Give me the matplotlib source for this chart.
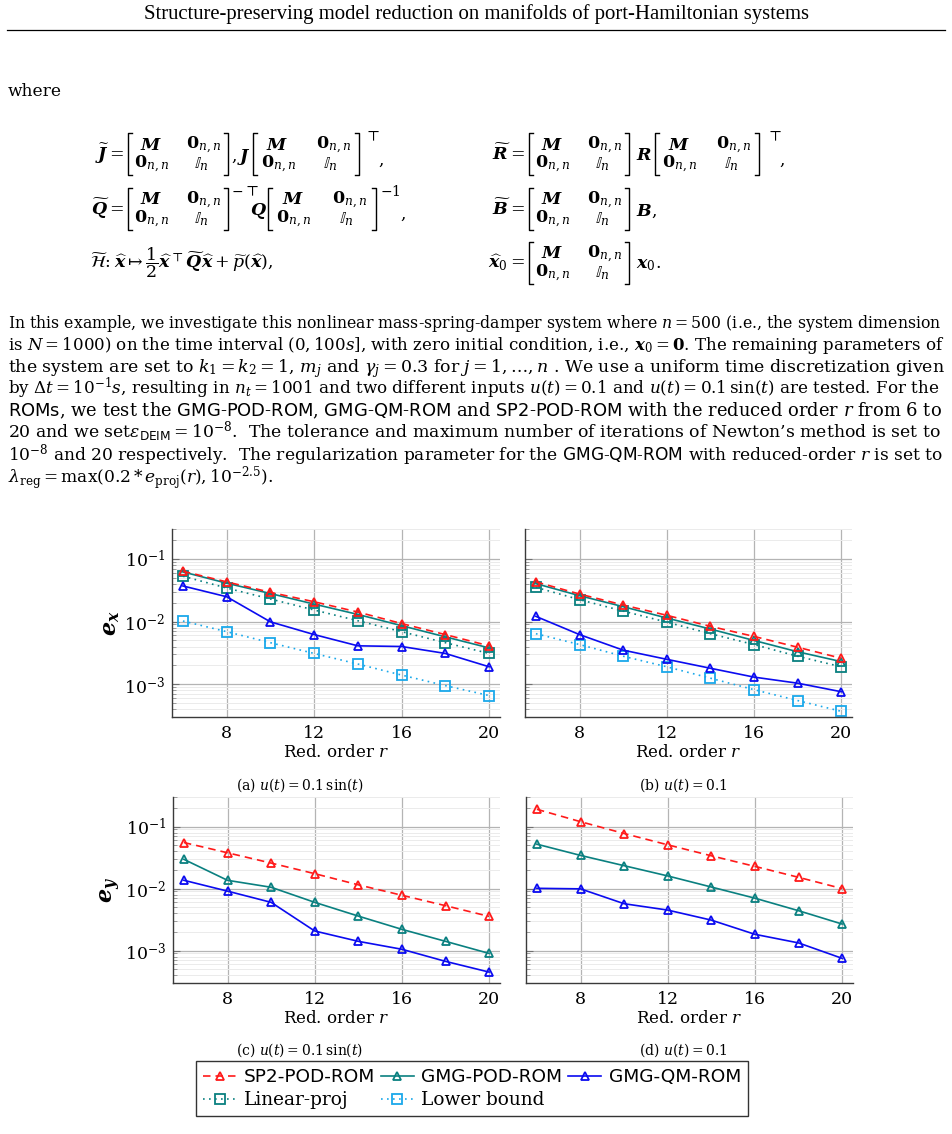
import matplotlib
matplotlib.use('Agg')
import matplotlib.pyplot as plt
import matplotlib.ticker as mticker
import numpy as np

plt.rcParams['font.family'] = ['DejaVu Serif']
plt.rcParams['mathtext.fontset'] = 'dejavuserif'

# ---------------- data ----------------
r = [6, 8, 10, 12, 14, 16, 18, 20]

ex_sin_sp2 = [0.0635, 0.043, 0.0293, 0.0207, 0.0142, 0.0093, 0.0062, 0.0041]
ex_sin_gmgpod = [0.062, 0.041, 0.028, 0.019, 0.013, 0.0086, 0.0057, 0.0038]
ex_sin_linproj = [0.053, 0.0343, 0.0229, 0.0153, 0.0103, 0.0069, 0.0046, 0.0031]
ex_sin_gmgqm = [0.037, 0.0249, 0.0099, 0.0062, 0.0041, 0.0040, 0.0031, 0.0019]
ex_sin_lower = [0.0102, 0.0069, 0.0046, 0.0031, 0.0021, 0.0014, 0.00095, 0.00066]

ex_const_sp2 = [0.043, 0.0275, 0.0184, 0.0126, 0.0084, 0.0058, 0.0039, 0.0026]
ex_const_gmgpod = [0.0403, 0.0259, 0.0173, 0.0114, 0.0076, 0.0050, 0.0033, 0.0023]
ex_const_linproj = [0.0352, 0.0224, 0.0147, 0.0098, 0.0064, 0.0043, 0.0028, 0.0019]
ex_const_gmgqm = [0.0121, 0.0062, 0.0035, 0.0025, 0.0018, 0.0013, 0.00104, 0.00076]
ex_const_lower = [0.0064, 0.0043, 0.0028, 0.0019, 0.00125, 0.00082, 0.00055, 0.00037]

ey_sin_sp2 = [0.0553, 0.0378, 0.0258, 0.0174, 0.0115, 0.0078, 0.0053, 0.00356]
ey_sin_gmgpod = [0.0296, 0.0136, 0.0105, 0.006, 0.0036, 0.0022, 0.00141, 0.0009]
ey_sin_gmgqm = [0.0136, 0.0091, 0.006, 0.00207, 0.00141, 0.00105, 0.00067, 0.00045]

ey_const_sp2 = [0.19, 0.12, 0.0773, 0.0508, 0.0338, 0.0228, 0.0152, 0.0100]
ey_const_gmgpod = [0.052, 0.0343, 0.0234, 0.016, 0.0106, 0.007, 0.0044, 0.00268]
ey_const_gmgqm = [0.0101, 0.0099, 0.0057, 0.0045, 0.0031, 0.00183, 0.00133, 0.00075]

labels = ['SP2-POD-ROM', 'GMG-POD-ROM', 'GMG-QM-ROM', 'Linear-proj', 'Lower bound']
captions = [r'(a) $u(t) = 0.1\,\sin(t)$', r'(b) $u(t) = 0.1$',
            r'(c) $u(t) = 0.1\,\sin(t)$', r'(d) $u(t) = 0.1$']

# ---------------- figure ----------------
W, H = 952, 1134
fig = plt.figure(figsize=(W / 100, H / 100), dpi=100)
ov = fig.add_axes([0, 0, 1, 1])
ov.set_xlim(0, W)
ov.set_ylim(H, 0)
ov.axis('off')
renderer = fig.canvas.get_renderer()


def fit(x, y, s, width, size, **kw):
    t = ov.text(x, y, s, fontsize=size, va='baseline', **kw)
    w = t.get_window_extent(renderer).width
    t.set_fontsize(size * width / w)
    return t


# header
fit(476, 19, 'Structure-preserving model reduction on manifolds of port-Hamiltonian systems',
    669, 12, ha='center', family='Liberation Serif')
ov.plot([7, 945], [30, 30], color='black', lw=0.9)

# paragraph
para = [
    r'In this example, we investigate this nonlinear mass-spring-damper system where $n = 500$ (i.e., the system dimension',
    r'is $N = 1000$) on the time interval $(0, 100s]$, with zero initial condition, i.e., $\boldsymbol{x}_0 = \mathbf{0}$. The remaining parameters of',
    r'the system are set to $k_1 = k_2 = 1$, $m_j$ and $\gamma_j = 0.3$ for $j = 1,\ldots,n$ . We use a uniform time discretization given',
    r'by $\Delta t = 10^{-1}s$, resulting in $n_t = 1001$ and two different inputs $u(t) = 0.1$ and $u(t) = 0.1\,\sin(t)$ are tested. For the',
    r'$\mathsf{ROMs}$, we test the $\mathsf{GMG}$-$\mathsf{POD}$-$\mathsf{ROM}$, $\mathsf{GMG}$-$\mathsf{QM}$-$\mathsf{ROM}$ and $\mathsf{SP2}$-$\mathsf{POD}$-$\mathsf{ROM}$ with the reduced order $r$ from 6 to',
    r'20 and we set$\epsilon_{\mathsf{DEIM}} = 10^{-8}$.  The tolerance and maximum number of iterations of Newton’s method is set to',
    r'$10^{-8}$ and 20 respectively.  The regularization parameter for the $\mathsf{GMG}$-$\mathsf{QM}$-$\mathsf{ROM}$ with reduced-order $r$ is set to',
]
sizes = []
for i, s in enumerate(para):
    t = fit(8, 328 + 22 * i, s, 936, 11.5, ha='left')
    sizes.append(t.get_fontsize())
bs = float(np.median(sizes))
ov.text(8, 328 + 22 * 7 + 1,
        r'$\lambda_{\mathrm{reg}} = \max(0.2 * e_{\mathrm{proj}}(r), 10^{-2.5})$.',
        fontsize=bs, va='baseline', ha='left')
ov.text(8, 96, 'where', fontsize=bs, va='baseline', ha='left')

# equations
EQ = 12.5


def bmat(x, yc, w=100, h=42):
    for xb, d in ((x, 1), (x + w, -1)):
        ov.plot([xb + d * 4, xb, xb, xb + d * 4],
                [yc - h / 2, yc - h / 2, yc + h / 2, yc + h / 2], color='black', lw=1.0)
    ov.text(x + w * 0.23, yc - 9, r'$\boldsymbol{M}$', ha='center', va='center', fontsize=EQ)
    ov.text(x + w * 0.76, yc - 9, r'$\mathbf{0}_{n,n}$', ha='center', va='center', fontsize=EQ)
    ov.text(x + w * 0.24, yc + 10, r'$\mathbf{0}_{n,n}$', ha='center', va='center', fontsize=EQ)
    ov.text(x + w * 0.73, yc + 10, r'$\mathbb{I}_n$', ha='center', va='center', fontsize=EQ)


def eqt(x, y, s, ha='left', size=EQ):
    ov.text(x, y, s, ha=ha, va='center', fontsize=size)


# left column
eqt(124, 154, r'$\widetilde{\boldsymbol{J}} =$', ha='right')
bmat(128, 154)
eqt(231, 157, r'$,\boldsymbol{J}$')
bmat(253, 154, w=106)
eqt(364, 137, r'$\top$', size=10)
eqt(378, 160, ',')

eqt(124, 209, r'$\widetilde{\boldsymbol{Q}} =$', ha='right')
bmat(128, 209)
eqt(231, 192, r'$-\top$', size=10)
eqt(250, 211, r'$\boldsymbol{Q}$')
bmat(268, 209, w=108)
eqt(380, 192, r'$-1$', size=10)
eqt(400, 214, ',')

eqt(90, 263, r'$\widetilde{\mathcal{H}}\!: \widehat{\boldsymbol{x}} \mapsto \dfrac{1}{2}\widehat{\boldsymbol{x}}^{\top}'
             r'\widetilde{\boldsymbol{Q}}\widehat{\boldsymbol{x}} + \widetilde{p}(\widehat{\boldsymbol{x}}),$')

# right column
eqt(525, 154, r'$\widetilde{\boldsymbol{R}} =$', ha='right')
bmat(529, 154)
eqt(636, 156, r'$\boldsymbol{R}$')
bmat(655, 154, w=104)
eqt(766, 137, r'$\top$', size=10)
eqt(779, 160, ',')

eqt(525, 209, r'$\widetilde{\boldsymbol{B}} =$', ha='right')
bmat(529, 209)
eqt(636, 211, r'$\boldsymbol{B},$')

eqt(525, 263, r'$\widehat{\boldsymbol{x}}_0 =$', ha='right')
bmat(529, 263)
eqt(636, 265, r'$\boldsymbol{x}_0.$')

# ---------------- charts ----------------
RED, TEAL, BLUE, LBLUE = '#ff1a1a', '#0a8080', '#0b0bf0', '#1aa8ea'


def pax(l, t, rr, b):
    return fig.add_axes([l / W, 1 - b / H, (rr - l) / W, (b - t) / H])


def style(ax, left_labels):
    ax.set_yscale('log')
    ax.set_ylim(3e-4, 0.3)
    ax.set_xlim(5.5, 20.5)
    ax.set_xticks([8, 12, 16, 20])
    ax.yaxis.set_major_locator(mticker.LogLocator(base=10, numticks=10))
    ax.yaxis.set_minor_locator(mticker.LogLocator(base=10, subs=np.arange(2, 10), numticks=10))
    ax.yaxis.set_minor_formatter(mticker.NullFormatter())
    ax.grid(which='major', color='#b4b4b4', lw=0.9)
    ax.grid(which='minor', axis='y', color='#ebebeb', lw=0.7)
    ax.set_axisbelow(True)
    for s in ('top', 'right'):
        ax.spines[s].set_visible(False)
    for s in ('left', 'bottom'):
        ax.spines[s].set_color('#3a3a3a')
        ax.spines[s].set_linewidth(1.0)
    ax.tick_params(axis='x', length=0, pad=6, labelsize=12.5)
    ax.tick_params(axis='y', which='major', direction='in', length=5, color='#707070', labelsize=12.5, pad=5)
    ax.tick_params(axis='y', which='minor', direction='in', length=3, color='#909090')
    if not left_labels:
        ax.tick_params(axis='y', labelleft=False)
    ax.set_xlabel(r'Red. order $r$', fontsize=12, labelpad=1)


def line(ax, y, kind, label):
    st = {
        'sp2': dict(color=RED, ls=(0, (4.5, 3)), marker='^'),
        'gmgpod': dict(color=TEAL, ls='-', marker='^'),
        'gmgqm': dict(color=BLUE, ls='-', marker='^'),
        'lin': dict(color=TEAL, ls=(0, (1, 2.6)), marker='s'),
        'low': dict(color=LBLUE, ls=(0, (1, 2.6)), marker='s'),
    }[kind]
    return ax.plot(r, y, lw=1.2, ms=6 if st['marker'] == '^' else 6.5, mfc='none', mew=1.3,
                   label=label, clip_on=False, **st)[0]


axA = pax(172, 529, 500, 717)
axB = pax(525, 529, 852, 717)
axC = pax(173, 797, 500, 983)
axD = pax(526, 797, 853, 983)

style(axA, True)
style(axB, False)
style(axC, True)
style(axD, False)

hA = {}
for ax, data, store in ((axA, (ex_sin_lower, ex_sin_linproj, ex_sin_gmgqm, ex_sin_gmgpod, ex_sin_sp2), True),
                        (axB, (ex_const_lower, ex_const_linproj, ex_const_gmgqm, ex_const_gmgpod, ex_const_sp2), False)):
    h5 = line(ax, data[0], 'low', labels[4])
    h4 = line(ax, data[1], 'lin', labels[3])
    h3 = line(ax, data[2], 'gmgqm', labels[2])
    h2 = line(ax, data[3], 'gmgpod', labels[1])
    h1 = line(ax, data[4], 'sp2', labels[0])
    if store:
        hA = {'sp2': h1, 'gmgpod': h2, 'gmgqm': h3, 'lin': h4, 'low': h5}

for ax, data in ((axC, (ey_sin_gmgqm, ey_sin_gmgpod, ey_sin_sp2)),
                 (axD, (ey_const_gmgqm, ey_const_gmgpod, ey_const_sp2))):
    line(ax, data[0], 'gmgqm', labels[2])
    line(ax, data[1], 'gmgpod', labels[1])
    line(ax, data[2], 'sp2', labels[0])

axA.set_ylabel(r'$\boldsymbol{e}_{\boldsymbol{x}}$', fontsize=16, labelpad=1)
axC.set_ylabel(r'$\boldsymbol{e}_{\boldsymbol{y}}$', fontsize=16, labelpad=1)

# captions
ov.text(300, 785, captions[0], ha='center', va='center', fontsize=10)
ov.text(683, 785, captions[1], ha='center', va='center', fontsize=10)
ov.text(300, 1050, captions[2], ha='center', va='center', fontsize=10)
ov.text(683, 1050, captions[3], ha='center', va='center', fontsize=10)

# legend
order = ['sp2', 'lin', 'gmgpod', 'low', 'gmgqm']
handles = [hA[k] for k in order]
leg = fig.legend(handles, [h.get_label() for h in handles], ncol=3, loc='upper left',
                 bbox_to_anchor=(196 / W, 1 - 1061 / H), frameon=True, fancybox=False,
                 edgecolor='#333333', framealpha=1, prop={'family': 'DejaVu Sans', 'size': 13.3},
                 handlelength=1.8, handletextpad=0.4, columnspacing=0.3, borderpad=0.4,
                 labelspacing=0.25, borderaxespad=0)
leg.get_frame().set_linewidth(1.0)
for i in (1, 3):
    leg.get_texts()[i].set_fontfamily('DejaVu Serif')

fig.savefig('out.png', dpi=100)
